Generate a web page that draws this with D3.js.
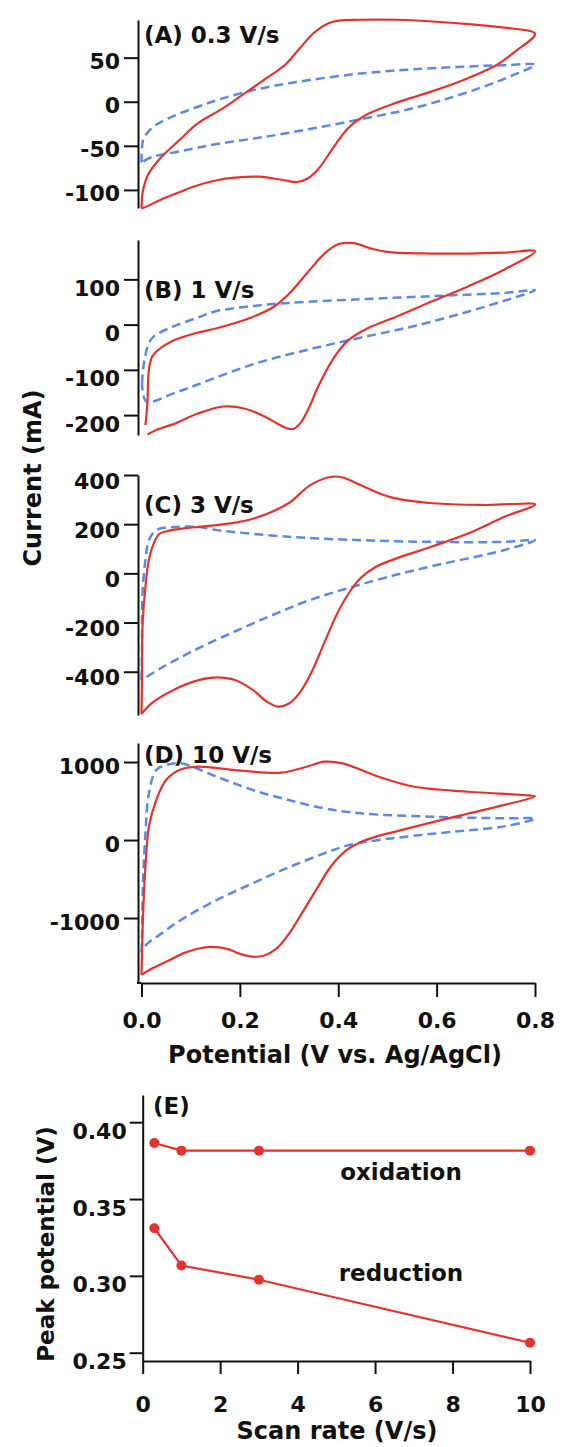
<!DOCTYPE html>
<html>
<head>
<meta charset="utf-8">
<script src="https://cdn.jsdelivr.net/npm/d3@7"></script>
<style>
  body { margin: 0; background: #fff; }
  svg text { font-family: "DejaVu Sans", sans-serif; font-weight: bold; fill: #111; }
</style>
</head>
<body>
<svg id="chart" width="566" height="1447"></svg>
<script>
// ---- data ----
const potentialTicks = [0, 0.2, 0.4, 0.6, 0.8];

const ticksA = [-100, -50, 0, 50];
const ticksB = [-200, -100, 0, 100];
const ticksC = [-400, -200, 0, 200, 400];
const ticksD = [-1000, 0, 1000];

const labelA = "(A) 0.3 V/s";
const labelB = "(B) 1 V/s";
const labelC = "(C) 3 V/s";
const labelD = "(D) 10 V/s";

// [potential V, current mA], traced round each loop
const redA = [[0,-121],[0.002,-104],[0.008,-90],[0.015,-81],[0.04,-63],[0.08,-42],[0.113,-25],[0.167,-7],[0.211,10],[0.255,27],[0.292,42],[0.321,60],[0.35,78],[0.38,89],[0.401,92],[0.445,93],[0.519,93],[0.592,91],[0.665,88],[0.738,84],[0.8,77],
  [0.76,57],[0.723,42],[0.665,27],[0.592,12],[0.519,-1],[0.46,-14],[0.42,-30],[0.39,-52],[0.36,-76],[0.338,-87],[0.316,-91],[0.29,-89],[0.24,-85],[0.19,-86],[0.153,-89],[0.113,-95],[0.08,-102],[0.036,-112],[0.006,-120],[0,-121]];
const blueA = [[0,-69],[0.001,-52],[0.005,-41],[0.025,-28],[0.066,-16],[0.113,-6],[0.16,3],[0.226,13],[0.3,21],[0.445,32],[0.59,38],[0.74,41.5],[0.8,42],
  [0.75,29],[0.7,18],[0.63,5],[0.555,-7],[0.48,-16],[0.37,-28],[0.26,-39],[0.153,-48],[0.08,-56],[0.02,-63],[0,-69]];

const redB = [[0.008,-222],[0.012,-173],[0.015,-100],[0.022,-70],[0.035,-55],[0.065,-35],[0.113,-18],[0.153,-8],[0.226,17],[0.27,40],[0.3,68],[0.336,113],[0.372,157],[0.401,178],[0.431,180],[0.467,168],[0.504,160],[0.592,157],[0.665,157],[0.738,159],[0.8,162],
  [0.738,122],[0.665,85],[0.592,52],[0.519,18],[0.46,-8],[0.42,-35],[0.39,-75],[0.36,-135],[0.34,-185],[0.325,-215],[0.31,-230],[0.295,-229],[0.275,-218],[0.25,-203],[0.211,-186],[0.167,-181],[0.116,-196],[0.065,-220],[0.03,-233],[0.012,-243]];
const blueB = [[0.001,-130],[0.005,-85],[0.015,-41],[0.025,-26],[0.065,-4],[0.113,15],[0.153,30],[0.226,41],[0.3,48],[0.445,56],[0.592,63],[0.738,70],[0.8,76],
  [0.75,57],[0.665,29],[0.555,-3],[0.445,-29],[0.336,-56],[0.226,-88],[0.113,-133],[0.065,-152],[0.01,-170],[0.001,-130]];

const redC = [[0,-572],[0.001,-420],[0.002,-217],[0.008,-54],[0.015,54],[0.025,122],[0.036,160],[0.052,172],[0.086,183],[0.116,189],[0.18,203],[0.23,224],[0.299,285],[0.343,359],[0.387,393],[0.409,390],[0.445,359],[0.504,311],[0.592,285],[0.701,278],[0.8,280],
  [0.738,230],[0.665,163],[0.592,110],[0.52,62],[0.475,25],[0.445,-20],[0.42,-85],[0.395,-175],[0.37,-290],[0.345,-405],[0.32,-490],[0.299,-530],[0.277,-542],[0.255,-522],[0.226,-474],[0.19,-434],[0.153,-423],[0.116,-434],[0.065,-474],[0.021,-528],[0,-572]];
const blueC = [[0,-434],[0.001,-325],[0.002,-81],[0.008,54],[0.015,135],[0.03,176],[0.07,189],[0.113,189],[0.153,176],[0.299,149],[0.445,135],[0.592,128],[0.738,128],[0.8,135],
  [0.738,95],[0.592,30],[0.5,-15],[0.42,-60],[0.34,-110],[0.26,-175],[0.18,-245],[0.1,-320],[0.04,-385],[0,-434]];

const redD = [[0,-1730],[0.001,-1453],[0.003,-983],[0.008,-342],[0.015,171],[0.03,513],[0.05,769],[0.077,897],[0.113,940],[0.19,897],[0.284,863],[0.336,940],[0.372,1004],[0.409,983],[0.482,812],[0.555,683],[0.665,619],[0.775,577],[0.8,560],
  [0.738,450],[0.665,340],[0.592,230],[0.53,130],[0.48,50],[0.445,-30],[0.415,-140],[0.385,-340],[0.355,-640],[0.325,-950],[0.3,-1200],[0.275,-1390],[0.25,-1480],[0.225,-1495],[0.2,-1460],[0.174,-1395],[0.14,-1370],[0.11,-1400],[0.086,-1450],[0.052,-1555],[0.02,-1650],[0,-1730]];
const blueD = [[0,-1440],[0.001,-1282],[0.003,-555],[0.008,86],[0.015,599],[0.03,897],[0.05,961],[0.08,983],[0.153,812],[0.226,641],[0.299,513],[0.372,406],[0.445,342],[0.592,299],[0.738,278],[0.8,275],
  [0.738,175],[0.665,125],[0.592,80],[0.52,30],[0.46,-20],[0.416,-75],[0.372,-170],[0.299,-350],[0.226,-555],[0.153,-769],[0.08,-1025],[0.04,-1200],[0.01,-1340],[0,-1440]];

const scanRates = [0.3, 1, 3, 10];
const oxidationPeaks = [0.3865, 0.3815, 0.3815, 0.3815];
const reductionPeaks = [0.331, 0.3067, 0.2975, 0.2565];
const scanRateTicks = [0, 2, 4, 6, 8, 10];
const peakTicks = [0.25, 0.30, 0.35, 0.40];

// ---- layout ----
const RED = "#e5332c";
const BLUE = "#5c89e6";
const svg = d3.select("#chart");
const plain = d => String(d);   // keep the ascii hyphen as minus sign

const x = d3.scaleLinear().domain([0, 0.8]).range([141.5, 535]);
const axisX = 138;

const panels = [
  { label: labelA, red: redA, blue: blueA, ticks: ticksA, domain: [-120.5, 92.7], range: [208, 20], labelY: 43, shift: 4 },
  { label: labelB, red: redB, blue: blueB, ticks: ticksB, domain: [-244, 187], range: [435, 240], labelY: 298, shift: 9 },
  { label: labelC, red: redC, blue: blueC, ticks: ticksC, domain: [-576, 400], range: [715, 475], labelY: 513, shift: 6 },
  { label: labelD, red: redD, blue: blueD, ticks: ticksD, domain: [-1833, 1244], range: [983, 743], labelY: 763, shift: 4 }
];

panels.forEach(function(p) {
  const y = d3.scaleLinear().domain(p.domain).range(p.range);
  const line = d3.line()
    .x(d => x(d[0]))
    .y(d => y(d[1]))
    .curve(d3.curveCatmullRom.alpha(0.5));

  svg.append("path")
    .attr("d", line(p.blue))
    .attr("fill", "none")
    .attr("stroke", BLUE)
    .attr("stroke-width", 2.5)
    .attr("stroke-dasharray", "9,5");

  svg.append("path")
    .attr("d", line(p.red))
    .attr("fill", "none")
    .attr("stroke", RED)
    .attr("stroke-width", 2.2);

  const g = svg.append("g")
    .attr("transform", `translate(${axisX},0)`)
    .call(d3.axisLeft(y).tickValues(p.ticks).tickSize(14).tickPadding(4).tickSizeOuter(0).tickFormat(plain));
  g.selectAll("text").attr("font-size", 22).attr("dy", "0.32em").attr("y", p.shift);
  g.selectAll("line, path").attr("stroke", "#111").attr("stroke-width", 2);

  svg.append("text")
    .attr("x", 144)
    .attr("y", p.labelY)
    .attr("font-size", 23)
    .text(p.label);
});

// shared potential axis
const gx = svg.append("g")
  .attr("transform", "translate(0,983)")
  .call(d3.axisBottom(x).tickValues(potentialTicks).tickSize(14).tickPadding(15).tickSizeOuter(0).tickFormat(d3.format(".1f")));
gx.selectAll("text").attr("font-size", 22);
gx.selectAll("line, path").attr("stroke", "#111").attr("stroke-width", 2);
svg.append("line")
  .attr("x1", axisX - 1).attr("x2", x(0))
  .attr("y1", 983).attr("y2", 983)
  .attr("stroke", "#111").attr("stroke-width", 2);

svg.append("text")
  .attr("x", 335).attr("y", 1063)
  .attr("text-anchor", "middle")
  .attr("font-size", 24)
  .text("Potential (V vs. Ag/AgCl)");

svg.append("text")
  .attr("transform", "translate(41,478) rotate(-90)")
  .attr("text-anchor", "middle")
  .attr("font-size", 24)
  .text("Current (mA)");

// ---- panel E ----
const xe = d3.scaleLinear().domain([0, 10]).range([142.7, 530]);
const ye = d3.scaleLinear().domain([0.2446, 0.4177]).range([1361, 1095]);

const gey = svg.append("g")
  .attr("transform", "translate(142.7,0)")
  .call(d3.axisLeft(ye).tickValues(peakTicks).tickSize(13).tickPadding(3).tickSizeOuter(0).tickFormat(d3.format(".2f")));
gey.selectAll("text").attr("font-size", 22).attr("dy", "0.32em").attr("y", 9);
gey.selectAll("line, path").attr("stroke", "#111").attr("stroke-width", 2);

const gex = svg.append("g")
  .attr("transform", "translate(0,1361)")
  .call(d3.axisBottom(xe).tickValues(scanRateTicks).tickSize(13).tickPadding(22).tickSizeOuter(0));
gex.selectAll("text").attr("font-size", 22);
gex.selectAll("line, path").attr("stroke", "#111").attr("stroke-width", 2);

[oxidationPeaks, reductionPeaks].forEach(function(series) {
  const pts = scanRates.map((r, i) => [r, series[i]]);
  svg.append("path")
    .attr("d", d3.line().x(d => xe(d[0])).y(d => ye(d[1]))(pts))
    .attr("fill", "none")
    .attr("stroke", RED)
    .attr("stroke-width", 2.2);
  svg.selectAll(null)
    .data(pts)
    .enter()
    .append("circle")
    .attr("cx", d => xe(d[0]))
    .attr("cy", d => ye(d[1]))
    .attr("r", 5)
    .attr("fill", RED);
});

svg.append("text").attr("x", 153).attr("y", 1114).attr("font-size", 23).text("(E)");
svg.append("text").attr("x", 401).attr("y", 1180).attr("text-anchor", "middle").attr("font-size", 23).text("oxidation");
svg.append("text").attr("x", 401).attr("y", 1281).attr("text-anchor", "middle").attr("font-size", 23).text("reduction");

svg.append("text")
  .attr("x", 337).attr("y", 1439)
  .attr("text-anchor", "middle")
  .attr("font-size", 24)
  .text("Scan rate (V/s)");

svg.append("text")
  .attr("transform", "translate(54,1244) rotate(-90)")
  .attr("text-anchor", "middle")
  .attr("font-size", 23)
  .text("Peak potential (V)");
</script>
</body>
</html>
